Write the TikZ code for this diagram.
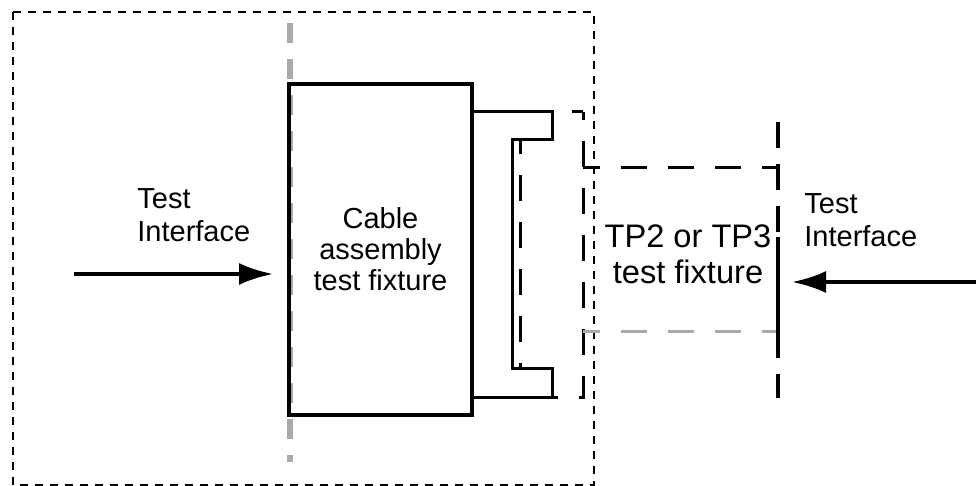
\documentclass[tikz,border=0pt]{standalone}
\usepackage{fontspec}
\setmainfont{Liberation Sans}
\usetikzlibrary{arrows.meta,positioning,calc}
\definecolor{ink}{HTML}{000000}
\definecolor{guide}{HTML}{A9A9A9}
\tikzset{
  framebox/.style={draw=ink, line width=0.75pt, dash pattern=on 4pt off 3.5pt},
  guideline/.style={draw=guide, line width=3pt, dash pattern=on 10pt off 8pt},
  fixturebox/.style={draw=ink, line width=1.8pt, align=center, inner sep=0pt,
    minimum width=91.5pt, minimum height=165.5pt,
    font=\fontsize{14.5}{15.5}\selectfont},
  tplabel/.style={align=center, inner sep=0pt, font=\fontsize{16.3}{18}\selectfont},
  plugline/.style={draw=ink, fill=white, line width=1.5pt},
  jackline/.style={draw=ink, line width=1.5pt, dash pattern=on 13pt off 10.5pt},
  ifacelabel/.style={align=left, inner sep=0pt, anchor=north west,
    font=\fontsize{14.5}{16.5}\selectfont},
  arr/.style={-{Latex[length=17pt,width=11pt]}, draw=ink, line width=2pt}
}

\begin{document}
\begin{tikzpicture}[x=0.5pt,y=-0.5pt]
  \useasboundingbox (0,0) rectangle (976,486);
  \draw[framebox] (13,12) rectangle (594,485);
  \draw[guideline] (290,23) -- (290,462);
  % connector: receptacle under the plug
  \draw[jackline, dash phase=9pt] (583,112) -- (583,398) -- (520,398) -- (520,112) -- cycle;
  \filldraw[plugline] (472,112) -- (552,112) -- (552,140) -- (512,140)
    -- (512,369) -- (552,369) -- (552,398) -- (472,398);
  \node[fixturebox] (fixture) at (380.5,249.5) {Cable\\assembly\\test fixture};
  % TP fixture
  \coordinate (tpnw) at (583,168);
  \coordinate (tpne) at (778,168);
  \coordinate (tpsw) at (583,332);
  \coordinate (tpse) at (778,332);
  \node[tplabel] (tp) at (688,254) {TP2 or TP3\\test fixture};
  \draw[jackline, dash phase=4.5pt] (tpnw) -- (tpne);
  \draw[jackline, draw=guide, dash phase=4.5pt] (tpsw) -- (tpse);
  \draw[jackline, line width=2pt, dash pattern=on 13pt off 8pt] (778,122) -- (778,398);
  \draw[draw=ink, line width=2pt] (778,237) -- (tpse);
  % interfaces
  \node[ifacelabel] (ifaceL) at (137,188) {Test\\Interface};
  \node[ifacelabel] (ifaceR) at (804,193) {Test\\Interface};
  \coordinate (lfrom) at (74,274);
  \coordinate (lto) at (273,274);
  \draw[arr] (lfrom) -- (lto);
  \coordinate (rfrom) at (976,282);
  \coordinate (rto) at (792,282);
  \draw[arr] (rfrom) -- (rto);
\end{tikzpicture}
\end{document}
